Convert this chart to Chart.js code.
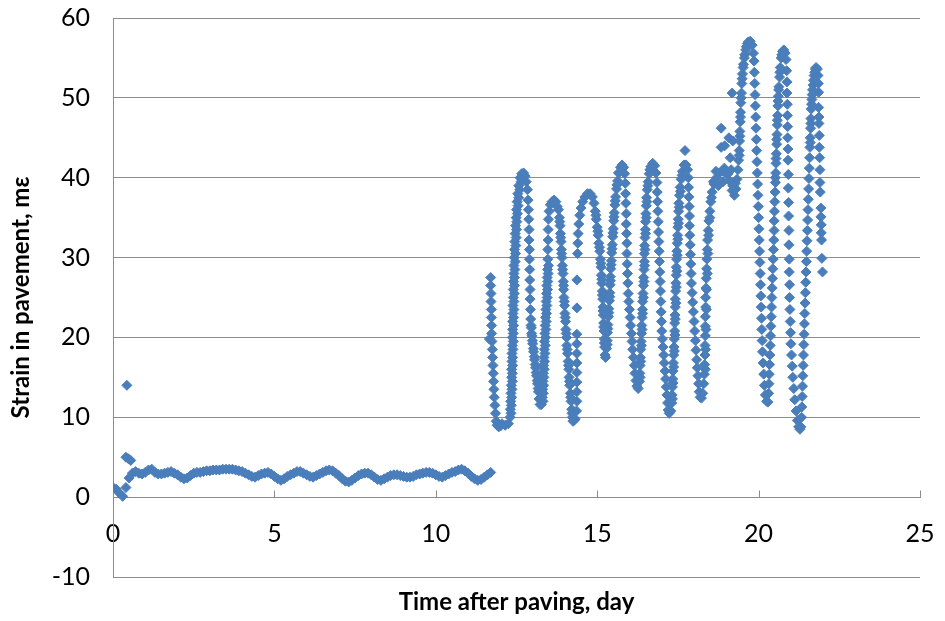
<!DOCTYPE html>
<html>
<head>
<meta charset="utf-8">
<script src="https://cdn.jsdelivr.net/npm/chart.js@4.4.0/dist/chart.umd.min.js"></script>
<style>
  body { margin: 0; background: #fff; }
</style>
</head>
<body>
<canvas id="myChart" width="945" height="621"></canvas>
<script>
// [day, strain] pairs
var curing = [[0.0,1.2],[0.1,1.0],[0.2,0.5],[0.3,0.1],[0.4,1.2],[0.5,2.4],[0.6,3.0],[0.7,3.2],[0.8,3.0],[0.9,2.9],[1.0,3.1],[1.1,3.4],[1.2,3.5],[1.3,3.1],[1.4,2.9],[1.5,2.9],[1.6,3.0],[1.7,3.1],[1.8,3.2],[1.9,3.0],[2.0,2.8],[2.1,2.5],[2.2,2.3],[2.3,2.4],[2.4,2.7],[2.5,3.0],[2.6,3.1],[2.7,3.1],[2.8,3.2],[2.9,3.3],[3.0,3.3],[3.1,3.4],[3.2,3.4],[3.3,3.4],[3.4,3.5],[3.5,3.5],[3.6,3.5],[3.7,3.5],[3.8,3.4],[3.9,3.3],[4.0,3.2],[4.1,3.0],[4.2,2.8],[4.3,2.6],[4.4,2.5],[4.5,2.7],[4.6,2.9],[4.7,3.0],[4.8,3.1],[4.9,2.9],[5.0,2.6],[5.1,2.3],[5.2,2.1],[5.3,2.3],[5.4,2.6],[5.5,2.8],[5.6,3.0],[5.7,3.2],[5.8,3.2],[5.9,3.0],[6.0,2.8],[6.1,2.6],[6.2,2.5],[6.3,2.7],[6.4,2.9],[6.5,3.1],[6.6,3.3],[6.7,3.4],[6.8,3.3],[6.9,3.0],[7.0,2.7],[7.1,2.3],[7.2,2.0],[7.3,1.9],[7.4,2.1],[7.5,2.4],[7.6,2.7],[7.7,2.9],[7.8,3.0],[7.9,3.0],[8.0,2.8],[8.1,2.5],[8.2,2.2],[8.3,2.1],[8.4,2.3],[8.5,2.5],[8.6,2.7],[8.7,2.8],[8.8,2.8],[8.9,2.7],[9.0,2.6],[9.1,2.5],[9.2,2.5],[9.3,2.6],[9.4,2.8],[9.5,2.9],[9.6,3.0],[9.7,3.1],[9.8,3.1],[9.9,3.0],[10.0,2.8],[10.1,2.6],[10.2,2.5],[10.3,2.7],[10.4,2.9],[10.5,3.1],[10.6,3.2],[10.7,3.4],[10.8,3.5],[10.9,3.3],[11.0,3.0],[11.1,2.6],[11.2,2.3],[11.3,2.1],[11.4,2.2],[11.5,2.5],[11.6,2.8],[11.7,3.1]];

var curingSpikes = [[0.43,14.0],[0.4,5.0],[0.48,4.8],[0.55,4.6]];

var swing12 = [[11.66,19.8],[11.70,27.5],[11.70,26.5],[11.71,25.5],[11.71,24.5],[11.72,23.5],[11.72,22.5],[11.73,21.5],[11.73,20.5],[11.74,19.5],[11.75,18.5],[11.76,17.5],[11.77,16.5],[11.78,15.5],[11.79,14.5],[11.80,13.5],[11.81,12.5],[11.83,11.5],[11.85,10.5],[11.87,9.5],[11.90,9.0],[11.95,8.8],[12.00,8.9],[12.05,9.2],[12.15,9.0],[12.25,9.2],[12.30,10],[12.31,11],[12.32,12],[12.33,13],[12.34,14],[12.35,15],[12.35,16],[12.36,17],[12.36,18],[12.37,19],[12.37,20],[12.38,21],[12.38,22],[12.39,23],[12.39,24],[12.40,25],[12.40,26],[12.41,27],[12.42,28],[12.42,29],[12.43,30],[12.44,31],[12.45,32],[12.46,33],[12.47,34],[12.49,35],[12.50,36],[12.52,37],[12.54,38],[12.57,39],[12.61,40],[12.66,40.5],[12.72,40.6],[12.77,40.2],[12.80,39.5]];

var swing13 = [[12.84,38.5],[12.86,37.2],[12.87,36],[12.88,34.8],[12.89,33.5],[12.89,32.2],[12.90,31],[12.90,29.8],[12.91,28.5],[12.91,27.2],[12.92,26],[12.92,24.8],[12.93,23.5],[12.94,22.3],[12.95,21.5],[12.96,21.2],[12.97,20.5],[12.98,20.2],[12.99,19.6],[13.00,19.2],[13.02,18.6],[13.03,18.2],[13.05,17.6],[13.06,17.2],[13.08,16.6],[13.09,16.2],[13.11,15.6],[13.12,15.2],[13.14,14.6],[13.15,14.2],[13.17,13.6],[13.18,13.2],[13.20,12.3],[13.23,11.6],[13.27,11.6],[13.30,12.5],[13.31,13.5],[13.32,14.5],[13.33,15.5],[13.34,16.5],[13.35,17.5],[13.36,18.5],[13.37,19.5],[13.38,20.5],[13.39,21.5],[13.40,22.5],[13.41,23.5],[13.42,24.5],[13.43,25.5],[13.44,26.5],[13.45,27.5],[13.46,28.5],[13.47,29.8],[13.47,31],[13.48,32.2],[13.48,33.5],[13.49,34.8],[13.51,35.8],[13.55,36.6],[13.60,37.0],[13.66,37.2],[13.72,37.0],[13.76,36.4]];

var swing14 = [[13.80,36.0],[13.83,35.0],[13.85,34.0],[13.86,33.0],[13.88,32.0],[13.89,31.0],[13.91,30.0],[13.92,29.0],[13.94,28.0],[13.95,27.0],[13.96,26.0],[13.97,25.0],[13.99,24.0],[14.00,23.0],[14.02,22.0],[14.03,21.0],[14.05,20.0],[14.06,19.0],[14.08,18.0],[14.10,17.0],[14.12,16.0],[14.13,15.0],[14.15,14.0],[14.17,13.0],[14.19,12.0],[14.21,11.0],[14.23,10.0],[14.25,9.5],[14.28,9.6],[14.32,9.8],[14.36,10.8],[14.37,12],[14.37,13.2],[14.37,14.4],[14.37,15.6],[14.37,16.8],[14.37,18],[14.37,19.2],[14.37,20.4],[14.37,23.7],[14.37,27.2],[14.39,30.5],[14.40,31.8],[14.41,33],[14.43,34.2],[14.46,35.3],[14.50,36.2],[14.55,37],[14.62,37.6],[14.70,38],[14.78,38],[14.85,37.6],[14.90,36.8]];

var swing15 = [[14.94,35.8],[14.97,34.8],[15.00,33.8],[15.03,32.8],[15.05,31.8],[15.08,30.8],[15.10,29.8],[15.12,28.8],[15.13,27.8],[15.14,26.8],[15.16,25.8],[15.17,24.8],[15.18,23.8],[15.19,22.8],[15.20,21.8],[15.21,20.8],[15.22,19.8],[15.23,18.8],[15.24,17.8],[15.26,17.5],[15.29,18.6],[15.31,19.6],[15.32,20.6],[15.33,21.6],[15.35,22.6],[15.36,23.6],[15.38,24.6],[15.39,25.6],[15.40,26.6],[15.41,27.6],[15.42,28.6],[15.44,29.6],[15.45,30.6],[15.47,31.6],[15.48,32.6],[15.50,33.6],[15.51,34.6],[15.53,35.6],[15.55,36.6],[15.57,37.6],[15.60,38.6],[15.63,39.6],[15.67,40.6],[15.72,41.3],[15.77,41.6],[15.82,41.3],[15.85,40.5]];

var swing16 = [[15.87,39.3],[15.88,38],[15.89,36.8],[15.90,35.5],[15.90,34.2],[15.91,33],[15.92,31.8],[15.92,30.5],[15.93,29.2],[15.94,28],[15.95,26.8],[15.96,25.5],[15.98,24.5],[16.00,23.5],[16.02,22.5],[16.04,21.5],[16.06,20.5],[16.08,19.5],[16.10,18.5],[16.12,17.5],[16.15,16.5],[16.17,15.5],[16.20,14.6],[16.23,13.9],[16.27,13.6],[16.31,14.5],[16.32,15.5],[16.33,16.5],[16.34,17.5],[16.35,18.5],[16.36,19.5],[16.37,20.5],[16.38,21.5],[16.39,22.5],[16.40,23.5],[16.41,24.5],[16.42,25.5],[16.43,26.5],[16.44,27.5],[16.45,28.5],[16.46,29.5],[16.46,30.5],[16.47,31.5],[16.48,32.5],[16.49,33.5],[16.50,34.5],[16.51,35.5],[16.52,36.5],[16.53,37.5],[16.55,38.5],[16.58,39.5],[16.61,40.5],[16.66,41.4],[16.72,41.8],[16.78,41.5],[16.82,40.6]];

var swing17 = [[16.85,39.4],[16.86,38.2],[16.87,37],[16.88,35.8],[16.89,34.5],[16.90,33.2],[16.91,32],[16.92,30.8],[16.93,29.5],[16.94,28.2],[16.95,27],[16.96,25.8],[16.97,24.5],[16.98,23.2],[16.99,22],[17.00,20.8],[17.02,19.8],[17.04,18.8],[17.06,17.8],[17.08,16.8],[17.10,15.8],[17.12,14.8],[17.14,13.8],[17.16,12.8],[17.18,11.8],[17.20,10.9],[17.23,10.5],[17.28,10.8],[17.31,11.8],[17.32,12.8],[17.33,13.8],[17.34,14.8],[17.35,15.8],[17.36,16.8],[17.37,17.8],[17.38,18.8],[17.39,19.8],[17.40,20.8],[17.40,21.8],[17.41,22.8],[17.42,23.8],[17.42,24.8],[17.43,25.8],[17.44,26.8],[17.45,27.8],[17.45,28.8],[17.46,29.8],[17.47,30.8],[17.48,31.8],[17.49,32.8],[17.50,33.8],[17.51,34.8],[17.52,35.8],[17.53,36.8],[17.55,37.8],[17.57,38.8],[17.60,39.8],[17.64,40.8],[17.69,41.6],[17.72,43.4],[17.75,41.6],[17.80,41.0]];

var swing18 = [[17.82,40],[17.83,38.8],[17.84,37.6],[17.85,36.4],[17.86,35.2],[17.86,34],[17.87,32.8],[17.88,31.6],[17.89,30.4],[17.90,29.2],[17.91,28],[17.92,26.8],[17.94,25.6],[17.96,24.4],[17.98,23.2],[18.00,22],[18.02,20.8],[18.04,19.6],[18.06,18.4],[18.08,17.2],[18.10,16.2],[18.12,15.2],[18.14,14.2],[18.16,13.2],[18.19,12.5],[18.23,12.4],[18.27,13],[18.30,14.2],[18.32,15.4],[18.33,16.6],[18.34,17.8],[18.34,19],[18.35,20.2],[18.35,21.4],[18.35,22.6],[18.36,23.8],[18.36,25],[18.37,26.2],[18.38,27.4],[18.39,28.6],[18.40,29.8],[18.41,31],[18.42,32.2],[18.44,33.4],[18.46,34.6],[18.49,35.8],[18.52,37],[18.56,38.2],[18.62,39.2],[18.70,40],[18.75,39],[18.78,40.6],[18.86,40.8],[18.90,39.5],[18.94,41.2],[19.02,40.4],[19.05,40.5],[19.10,39.6],[19.15,41],[19.18,38.4],[19.20,39],[19.25,37.8],[19.28,39.3],[19.30,38.6],[19.33,39.8],[19.36,41],[19.38,42.2],[19.40,43.4],[19.41,44.6],[19.42,45.8],[19.43,47],[19.44,48.2],[19.45,49.4],[19.47,50.6],[19.48,51.8],[19.50,53],[19.53,54.2],[19.57,55.4],[19.62,56.4],[19.68,57],[19.74,57.1],[19.80,56.6],[19.84,55.6]];

var plateauSpikes = [[18.84,46.2],[18.84,43.8],[18.95,44],[19.08,45],[19.18,50.6],[19.20,44.6],[19.12,42.5]];

var swing20 = [[19.86,54.6],[19.87,53.2],[19.88,51.8],[19.89,50.4],[19.90,49],[19.91,47.6],[19.92,46.2],[19.93,44.8],[19.94,43.4],[19.95,42],[19.96,40.6],[19.97,39.2],[19.98,37.8],[19.99,36.4],[20.00,35],[20.01,33.6],[20.02,32.2],[20.03,30.8],[20.04,29.4],[20.05,28],[20.06,26.6],[20.07,25.2],[20.08,23.8],[20.09,22.4],[20.10,21],[20.11,19.6],[20.12,18.2],[20.14,16.8],[20.16,15.4],[20.18,14],[20.21,12.8],[20.25,12],[20.29,11.9],[20.31,13],[20.32,14.2],[20.33,15.4],[20.34,16.6],[20.35,17.8],[20.36,19],[20.37,20.2],[20.38,21.4],[20.39,22.6],[20.40,23.8],[20.41,25],[20.42,26.2],[20.43,27.4],[20.44,28.6],[20.45,29.8],[20.46,31],[20.47,32.2],[20.48,33.4],[20.48,34.6],[20.49,35.8],[20.50,37],[20.51,38.2],[20.52,39.4],[20.53,40.6],[20.54,41.8],[20.55,43],[20.56,44.2],[20.57,45.4],[20.58,46.6],[20.59,47.8],[20.60,49],[20.61,50.2],[20.63,51.4],[20.65,52.6],[20.67,53.8],[20.70,55],[20.74,55.8],[20.78,56],[20.82,55.6],[20.85,54.8]];

var swing21 = [[20.87,53.4],[20.88,52],[20.88,50.6],[20.89,49.2],[20.89,47.8],[20.90,46.4],[20.90,45],[20.91,43.6],[20.91,42.2],[20.92,40.4],[20.92,38.7],[20.93,36.9],[20.93,35.2],[20.94,33.4],[20.94,31.6],[20.95,29.8],[20.95,28.2],[20.96,26.6],[20.96,25],[20.97,23.5],[20.98,22],[20.99,20.6],[21.00,19.2],[21.02,17.8],[21.04,16.4],[21.06,15],[21.09,13.6],[21.12,12.2],[21.16,10.8],[21.20,9.6],[21.24,8.8],[21.28,8.5],[21.31,8.8],[21.33,10],[21.34,11.3],[21.35,12.6],[21.36,13.9],[21.37,15.2],[21.38,16.5],[21.39,17.8],[21.40,19.1],[21.41,20.4],[21.42,21.7],[21.43,23],[21.44,24.3],[21.45,25.6],[21.46,26.9],[21.47,28.2],[21.48,29.5],[21.49,30.8],[21.50,32.1],[21.51,33.4],[21.52,34.7],[21.53,36],[21.54,37.3],[21.55,38.6],[21.56,39.9],[21.57,41.2],[21.58,42.5],[21.59,43.8],[21.60,45],[21.61,46.2],[21.62,47.4],[21.63,48.6],[21.65,49.8],[21.67,51],[21.70,52.2],[21.74,53.2],[21.78,53.8],[21.82,53.6],[21.84,52.8]];

var lastDrop = [[21.85,51.8],[21.86,50.7],[21.86,48.8],[21.87,47.6],[21.87,46.8],[21.88,45.3],[21.88,43.8],[21.89,42.5],[21.90,41.0],[21.90,39.4],[21.91,38.2],[21.93,36.2],[21.93,35.1],[21.94,34.1],[21.94,33.1],[21.95,32.2],[21.96,29.9],[21.98,28.2]];

// second pass of readings where the trace looks solid in the original
var denseRises = [[12.33,10.5],[12.34,11.5],[12.35,12.5],[12.36,13.5],[12.37,14.5],[12.37,15.5],[12.38,16.5],[12.38,17.5],[12.39,18.5],[12.40,19.5],[12.40,20.5],[12.41,21.5],[12.41,22.5],[12.42,23.5],[12.42,24.5],[12.43,25.5],[12.44,26.5],[12.44,27.5],[12.45,28.5],[12.46,29.5],[12.47,30.5],[12.48,31.5],[12.49,32.5],[12.50,33.5],[12.51,34.5],[12.53,35.5],[12.55,36.5],[12.57,37.5],[12.60,38.5],[12.64,39.5],
  [13.32,12],[13.33,13],[13.34,14],[13.35,15],[13.36,16],[13.37,17],[13.38,18],[13.39,19],[13.40,20],[13.41,21],[13.42,22],[13.43,23],[13.44,24],[13.45,25],[13.46,26],[13.47,27],[13.48,28],[13.49,29],
  [13.84,34.5],[13.87,32.5],[13.90,30.5],[13.93,28.5],[13.96,26.5],[13.98,24.5],[14.01,22.5],[14.04,20.5],[14.07,18.5],[14.11,16.5],[14.14,14.5],[14.18,12.5],[14.22,10.5],
  [14.96,35.3],[15.02,33.3],[15.07,31.3],[15.11,29.3],[15.14,27.3],[15.16,25.3],[15.18,23.3],[15.20,21.3],[15.22,19.3],
  [15.31,19.1],[15.33,21.1],[15.36,23.1],[15.39,25.1],[15.41,27.1],[15.43,29.1],[15.46,31.1],[15.49,33.1],[15.52,35.1],[15.56,37.1],[15.61,39.1],[15.66,40.6],
  [16.33,15],[16.35,17],[16.37,19],[16.39,21],[16.41,23],[16.43,25],[16.45,27],[16.47,29],[16.48,31],[16.50,33],[16.52,35],[16.54,37],[16.57,39],[16.63,41],
  [17.33,12.3],[17.35,14.3],[17.37,16.3],[17.39,18.3],[17.41,20.3],[17.42,22.3],[17.44,24.3],[17.45,26.3],[17.47,28.3],[17.48,30.3],[17.50,32.3],[17.52,34.3],[17.54,36.3],[17.58,38.3],[17.63,40.3],
  [18.35,16],[18.36,18.5],[18.37,21],[18.38,23.5],[18.39,26],[18.41,28],[18.43,30.5],[18.45,32.8],[18.49,35],[18.54,37.5],[18.60,39.5],[18.68,40.8],
  [19.40,42.8],[19.42,45.2],[19.44,47.6],[19.46,50],[19.49,52.4],[19.52,53.8],[19.56,55],[19.60,56],[19.65,56.8],
  [20.52,40],[20.54,42.4],[20.56,44.8],[20.58,47.2],[20.60,49.6],[20.62,51],[20.66,53.2],[20.72,55.4],
  [21.60,44.4],[21.62,46.8],[21.64,49.2],[21.66,50.4],[21.69,51.6],[21.72,52.8],[21.76,53.6]];

var xTicks = [0, 5, 10, 15, 20, 25];
var yTicks = [-10, 0, 10, 20, 30, 40, 50, 60];

var azul = "#4A7EBB";
var gris = "#8C8C8C";

var puntos = []
  .concat(curing, curingSpikes, swing12, swing13, swing14, swing15, swing16, swing17, swing18, plateauSpikes, swing20, swing21, lastDrop, denseRises)
  .map(function (p) { return { x: p[0], y: p[1] }; });

// inside tick marks on the x axis + x axis title
var extras = {
  id: "extras",
  afterDraw: function (chart) {
    var ctx = chart.ctx;
    var xs = chart.scales.x;
    var y0 = Math.round(chart.scales.y.getPixelForValue(0)) + 0.5;
    ctx.save();
    ctx.strokeStyle = gris;
    ctx.lineWidth = 1;
    xTicks.forEach(function (v) {
      if (v === 0) return;
      var px = Math.round(xs.getPixelForValue(v)) + 0.5;
      ctx.beginPath();
      ctx.moveTo(px, y0);
      ctx.lineTo(px, y0 - 7);
      ctx.stroke();
    });
    ctx.fillStyle = "#000";
    ctx.font = "bold 24px Lato";
    ctx.textAlign = "center";
    ctx.textBaseline = "middle";
    ctx.fillText("Time after paving, day", (chart.chartArea.left + chart.chartArea.right) / 2, 602);
    ctx.restore();
  },
};

var ctx = document.getElementById("myChart").getContext("2d");
new Chart(ctx, {
  type: "scatter",
  data: {
    datasets: [
      {
        label: "Strain",
        data: puntos,
        pointStyle: "rectRot",
        pointRadius: 5,
        pointBorderWidth: 1,
        backgroundColor: azul,
        borderColor: azul,
        showLine: false,
      },
    ],
  },
  options: {
    responsive: false,
    animation: false,
    layout: { padding: { top: 18, right: 25, bottom: 44, left: 0 } },
    plugins: { legend: { display: false }, tooltip: { enabled: false } },
    scales: {
      x: {
        type: "linear",
        position: { y: 0 },
        min: xTicks[0],
        max: xTicks[xTicks.length - 1],
        grid: { display: true, drawOnChartArea: false, drawTicks: false },
        border: { display: true, color: gris, width: 1 },
        ticks: { stepSize: 5, padding: 22, color: "#000", font: { family: "Lato", size: 25 } },
        afterFit: function (scale) {
          scale.paddingLeft = 0;
          scale.paddingRight = 0;
          scale.paddingTop = 0;
          scale.paddingBottom = 0;
        },
      },
      y: {
        min: yTicks[0],
        max: yTicks[yTicks.length - 1],
        grid: { color: gris, lineWidth: 1, drawTicks: false },
        border: { display: true, color: gris, width: 1 },
        ticks: { stepSize: 10, padding: 23, color: "#000", font: { family: "Lato", size: 25 } },
        title: {
          display: true,
          text: "Strain in pavement, mε",
          color: "#000",
          font: { family: "Lato", size: 24, weight: "bold" },
          padding: { top: 7, bottom: 0 },
        },
        afterFit: function (scale) {
          scale.width = 113;
          scale.paddingTop = 0;
          scale.paddingBottom = 0;
        },
      },
    },
  },
  plugins: [extras],
});
</script>
</body>
</html>
